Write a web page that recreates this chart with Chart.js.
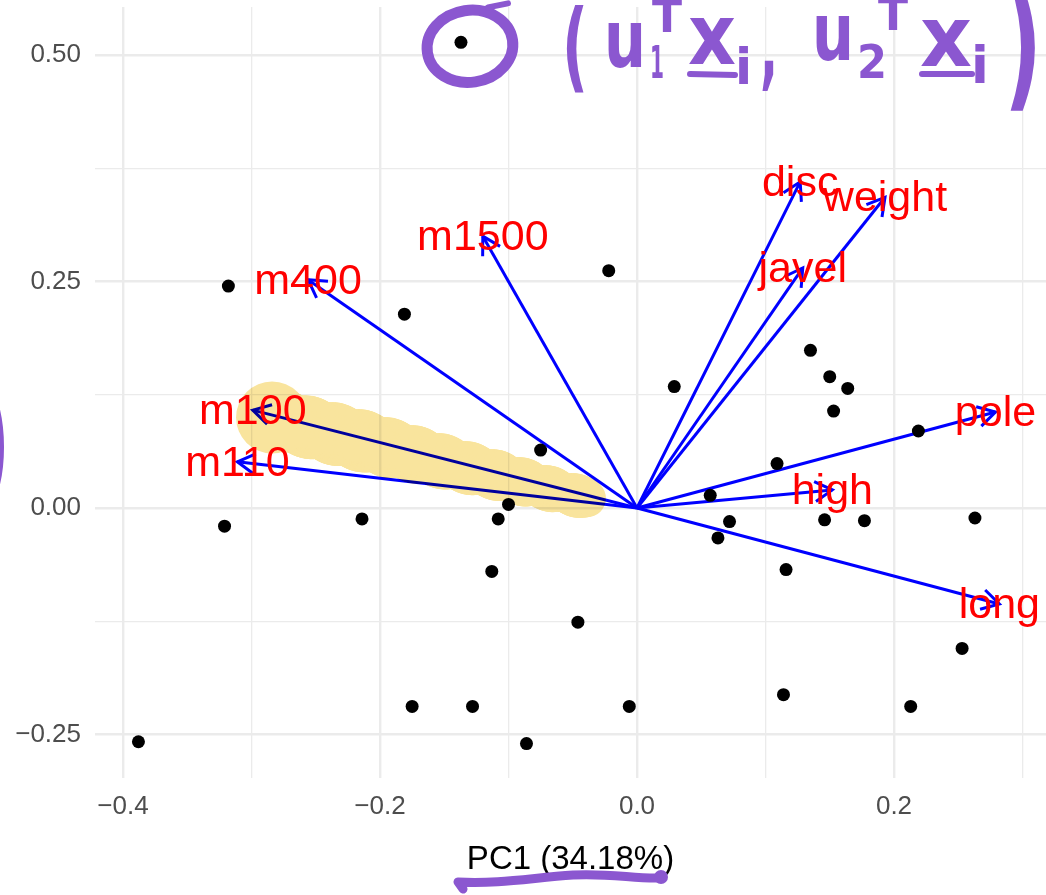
<!DOCTYPE html>
<html><head><meta charset="utf-8">
<script src="https://cdn.jsdelivr.net/npm/chart.js@4.4.1/dist/chart.umd.min.js"></script>
<style>html,body{margin:0;padding:0;background:#fff;overflow:hidden;} #wrap{width:1046px;height:895px;position:relative;overflow:hidden;} canvas{display:block;}</style>
</head><body><div id="wrap"><canvas id="c" width="1046" height="895"></canvas></div>
<script>
// ---- data ----
const pc1Scores = [-0.137,-0.318,-0.181,-0.022,0.029,0.135,0.150,0.164,0.153,0.219,-0.075,0.109,0.057,-0.100,-0.108,-0.214,-0.321,0.072,0.063,0.146,0.177,0.263,-0.113,0.116,-0.046,0.253,0.114,-0.175,-0.128,-0.006,0.213,-0.388,-0.086];
const pc2Scores = [0.514,0.245,0.214,0.262,0.134,0.174,0.145,0.132,0.107,0.085,0.064,0.049,0.014,0.004,-0.012,-0.012,-0.020,-0.015,-0.033,-0.013,-0.014,-0.011,-0.070,-0.068,-0.126,-0.155,-0.206,-0.219,-0.219,-0.219,-0.219,-0.258,-0.260];
const variableNames = ['m100','m110','m400','m1500','disc','weight','javel','pole','high','long'];
const loadingPC1 = [-0.299,-0.311,-0.256,-0.120,0.127,0.193,0.129,0.279,0.152,0.282];
const loadingPC2 = [0.108,0.051,0.252,0.300,0.360,0.343,0.265,0.106,0.020,-0.106];
const xTickValues = [-0.4,-0.3,-0.2,-0.1,0,0.1,0.2,0.3];
const xTickLabels = ['\u22120.4','','\u22120.2','','0.0','','0.2',''];
const yTickValues = [-0.25,-0.125,0,0.125,0.25,0.375,0.5];
const yTickLabels = ['\u22120.25','','0.00','','0.25','','0.50'];
const xTitle = 'PC1 (34.18%)';
const highlightedVariable = 'm100';
const circledPoint = 0;

const FONT = '"Liberation Sans", Arial, Helvetica, sans-serif';
const PURPLE = '#8B57D0';

const arrowDatasets = variableNames.map((n,i)=>({
  type:'line', label:n,
  data:[{x:0,y:0},{x:loadingPC1[i],y:loadingPC2[i]}],
  borderColor:'#0000FF', borderWidth:3, pointRadius:0, fill:false, order:2
}));
const pointDataset = {
  type:'scatter', label:'scores',
  data: pc1Scores.map((x,i)=>({x:x,y:pc2Scores[i]})),
  backgroundColor:'#000', borderColor:'#000', pointRadius:6.5, borderWidth:0, order:1
};

function arrowHead(ctx,x0,y0,x1,y1,len,ang){
  const a=Math.atan2(y1-y0,x1-x0);
  ctx.beginPath();
  ctx.moveTo(x1-len*Math.cos(a-ang), y1-len*Math.sin(a-ang));
  ctx.lineTo(x1,y1);
  ctx.lineTo(x1-len*Math.cos(a+ang), y1-len*Math.sin(a+ang));
  ctx.stroke();
}
function zeroPad(s){s.paddingTop=0;s.paddingBottom=0;s.paddingLeft=0;s.paddingRight=0;}

const biplotPlugin = {
  id:'biplot',
  afterDatasetsDraw(chart){
    const ctx=chart.ctx, xs=chart.scales.x, ys=chart.scales.y;
    const ox=xs.getPixelForValue(0), oy=ys.getPixelForValue(0);
    ctx.save();
    // arrowheads
    ctx.strokeStyle='#0000FF'; ctx.lineWidth=3; ctx.lineCap='butt'; ctx.lineJoin='miter';
    variableNames.forEach((n,i)=>{
      const tx=xs.getPixelForValue(loadingPC1[i]), ty=ys.getPixelForValue(loadingPC2[i]);
      arrowHead(ctx,ox,oy,tx,ty,20,Math.PI/6);
    });
    // highlighter stroke along highlighted arrow (brush of circles, multiplied)
    const hi=variableNames.indexOf(highlightedVariable);
    const hx=xs.getPixelForValue(loadingPC1[hi]), hy=ys.getPixelForValue(loadingPC2[hi]);
    const tmp=document.createElement('canvas'); tmp.width=chart.width; tmp.height=chart.height;
    const tc=tmp.getContext('2d');
    tc.fillStyle='#F9E49D';
    for(let t=0.13;t<=0.93;t+=0.004){
      const f=Math.min(1,(t-0.13)/0.6);
      const r=20+10*f + 1.5*Math.sin(t*90);
      const px=ox+t*(hx-ox), py=oy+t*(hy-oy)+3;
      tc.beginPath(); tc.arc(px,py,r,0,Math.PI*2); tc.fill();
    }
    const bx=ox+0.955*(hx-ox)+2, by=oy+0.955*(hy-oy)+3;
    tc.beginPath(); tc.arc(bx,by,36,0,Math.PI*2); tc.fill();
    ctx.globalCompositeOperation='multiply';
    ctx.drawImage(tmp,0,0);
    ctx.globalCompositeOperation='source-over';
    // labels
    ctx.fillStyle='#FF0000'; ctx.font='43px '+FONT; ctx.textAlign='center'; ctx.textBaseline='middle';
    variableNames.forEach((n,i)=>{
      const tx=xs.getPixelForValue(loadingPC1[i]), ty=ys.getPixelForValue(loadingPC2[i]);
      ctx.fillText(n,tx,ty+2);
    });
    ctx.restore();
  },
  afterDraw(chart){
    const ctx=chart.ctx, xs=chart.scales.x, ys=chart.scales.y;
    ctx.save();
    ctx.strokeStyle=PURPLE; ctx.fillStyle=PURPLE; ctx.lineCap='round'; ctx.lineJoin='round';
    // circle around point
    const cx=xs.getPixelForValue(pc1Scores[circledPoint])+9, cy=ys.getPixelForValue(pc2Scores[circledPoint])+4;
    ctx.lineWidth=11;
    ctx.beginPath(); ctx.ellipse(cx,cy,43,36,-0.15,0,Math.PI*2); ctx.stroke();
    ctx.lineWidth=6;
    ctx.beginPath(); ctx.moveTo(cx+18,cy-39); ctx.lineTo(cx+38,cy-43); ctx.stroke();
    // handwritten formula
    const HF='"DejaVu Sans", sans-serif';
    function t(s,x,y,size,mw){ctx.font='bold '+size+'px '+HF; if(mw) ctx.fillText(s,x,y,mw); else ctx.fillText(s,x,y);}
    ctx.textAlign='left'; ctx.textBaseline='alphabetic';
    t('(',562,80,98,26);
    t('u',604,67,80,42);
    t('1',650,78,44,14);
    t('T',652,32,44,40);
    t('x',688,64,84,48);
    t('i',735,84,50);
    t(',',760,78,90,18);
    t('u',812,60,80,42);
    t('2',857,78,46,30);
    t('T',878,30,44,40);
    t('x',920,66,84,52);
    t('i',971,83,52);
    t(')',1004,92,140,38);
    ctx.lineWidth=6;
    ctx.beginPath(); ctx.moveTo(690,74); ctx.lineTo(735,75); ctx.stroke();
    ctx.beginPath(); ctx.moveTo(922,74); ctx.lineTo(972,74); ctx.stroke();
    // underline below axis title
    ctx.lineWidth=9;
    ctx.beginPath();
    ctx.moveTo(463,889); ctx.lineTo(458,882);
    ctx.bezierCurveTo(500,884,530,878,573,875);
    ctx.bezierCurveTo(610,873,635,879,660,878);
    ctx.stroke();
    ctx.beginPath(); ctx.arc(661,877,7,0,Math.PI*2); ctx.fill();
    // left bracket arc (mostly outside view)
    ctx.lineWidth=8;
    ctx.beginPath(); ctx.ellipse(-36,447,36,80,0,-Math.PI/2,Math.PI/2); ctx.stroke();
    ctx.restore();
  }
};

new Chart(document.getElementById('c'),{
  data:{datasets:[pointDataset,...arrowDatasets]},
  options:{
    responsive:false, animation:false, devicePixelRatio:1,
    layout:{autoPadding:false,padding:{top:7,left:0,right:0,bottom:0}},
    plugins:{legend:{display:false},tooltip:{enabled:false}},
    scales:{
      x:{type:'linear',min:-0.4218,max:0.3183,
        afterBuildTicks:s=>{s.ticks=xTickValues.map(v=>({value:v}));},
        afterFit:s=>{s.height=117;zeroPad(s);},
        border:{display:false},
        grid:{color:'#EBEBEB',lineWidth:c=>xTickLabels[c.index]?2.4:1.3,drawTicks:false},
        ticks:{autoSkip:false,maxRotation:0,padding:13,color:'#4D4D4D',font:{family:FONT,size:26},callback:(v,i)=>xTickLabels[i]},
        title:{display:true,text:xTitle,color:'#000',font:{family:FONT,size:33},padding:{top:0,bottom:15}}
      },
      y:{type:'linear',min:-0.298,max:0.553,
        afterBuildTicks:s=>{s.ticks=yTickValues.map(v=>({value:v}));},
        afterFit:s=>{s.width=95;zeroPad(s);},
        border:{display:false},
        grid:{color:'#EBEBEB',lineWidth:c=>yTickLabels[c.index]?2.4:1.3,drawTicks:false},
        ticks:{autoSkip:false,padding:14,color:'#4D4D4D',font:{family:FONT,size:26},callback:(v,i)=>yTickLabels[i]}
      }
    }
  },
  plugins:[biplotPlugin]
});
</script></body></html>
